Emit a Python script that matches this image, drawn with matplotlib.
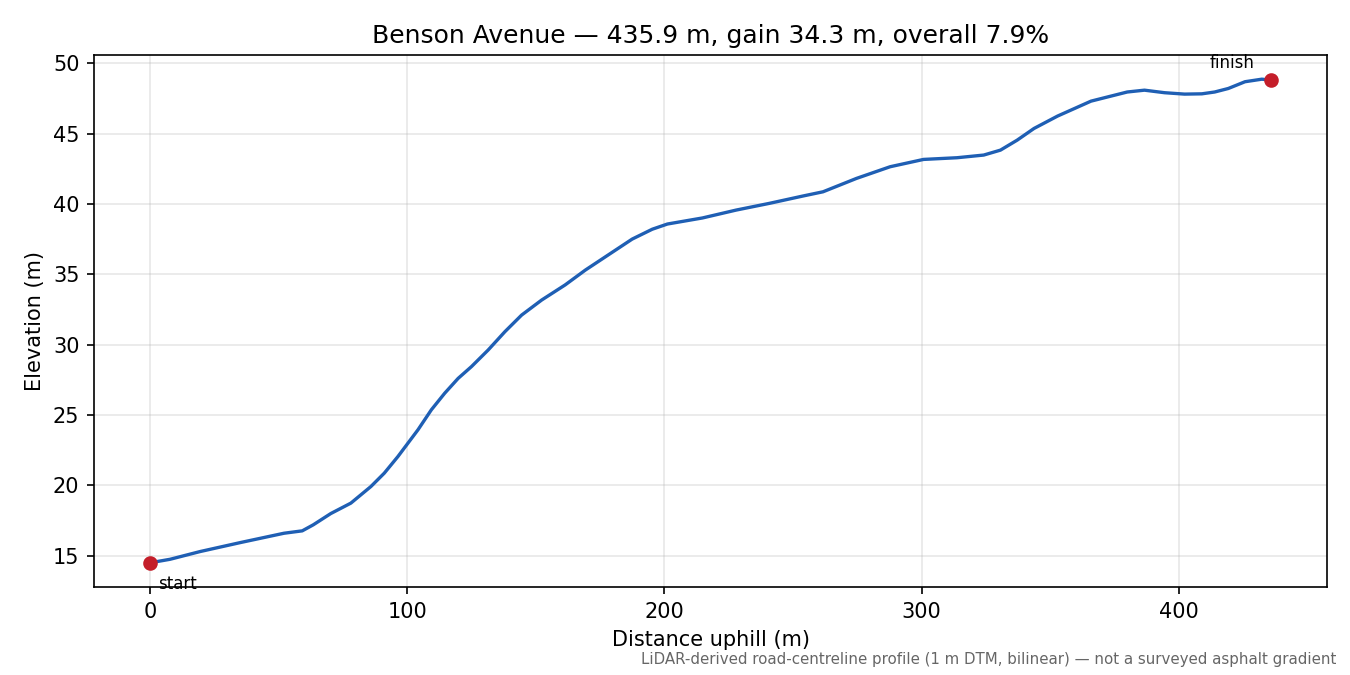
import matplotlib
matplotlib.use("Agg")
import matplotlib.pyplot as plt

title = "Benson Avenue — 435.9 m, gain 34.3 m, overall 7.9%"
distance_m = [0, 7.8, 19.5, 35.2, 52.1, 59.2, 63.5, 70.3, 78.1, 85.9, 91.1, 96.4,
              100.3, 104.2, 109.4, 114.6, 119.8, 125, 131.5, 138, 144.5, 152.3,
              161.4, 169.3, 178.4, 187.5, 195.3, 201.2, 214.8, 227.9, 240.9, 253.9,
              261.7, 274.7, 287.8, 300.8, 313.8, 324.2, 330.7, 337.2, 343.75, 352.9,
              365.9, 373.7, 380.0, 386.7, 394.5, 402.3, 409.0, 414, 419.3, 425.8,
              432.3, 435.9]
elevation_m = [14.5, 14.75, 15.3, 15.94, 16.6, 16.77, 17.2, 18.0, 18.74, 19.92,
               20.87, 22.05, 23.0, 23.95, 25.37, 26.55, 27.6, 28.44, 29.62, 30.92,
               32.1, 33.17, 34.24, 35.3, 36.4, 37.5, 38.2, 38.57, 39.0, 39.56,
               40.04, 40.56, 40.86, 41.81, 42.64, 43.16, 43.28, 43.47, 43.82, 44.53,
               45.36, 46.24, 47.3, 47.66, 47.95, 48.08, 47.9, 47.8, 47.82, 47.95,
               48.2, 48.68, 48.86, 48.8]
footnote = "LiDAR-derived road-centreline profile (1 m DTM, bilinear) — not a surveyed asphalt gradient"

fig, ax = plt.subplots(figsize=(9, 4.5), dpi=150)
ax.plot(distance_m, elevation_m, color="#1f5fb4", lw=1.6, solid_joinstyle="round")
ax.plot([distance_m[0], distance_m[-1]], [elevation_m[0], elevation_m[-1]], "o",
        color="#c41e2a", ms=6, ls="none")
ax.annotate("start", (distance_m[0], elevation_m[0]), xytext=(4, -6),
            textcoords="offset points", ha="left", va="top", fontsize=8)
ax.annotate("finish", (distance_m[-1], elevation_m[-1]), xytext=(-8, 4),
            textcoords="offset points", ha="right", va="bottom", fontsize=8)
ax.set_title(title, fontsize=12)
ax.set_xlabel("Distance uphill (m)")
ax.set_ylabel("Elevation (m)")
ax.grid(True, alpha=0.3)
fig.subplots_adjust(left=0.0696, right=0.983, top=0.9185, bottom=0.1304)
fig.text(0.99, 0.012, footnote, ha="right", va="bottom", fontsize=7.2, color="#666666")
fig.savefig("out.png", dpi=150)
